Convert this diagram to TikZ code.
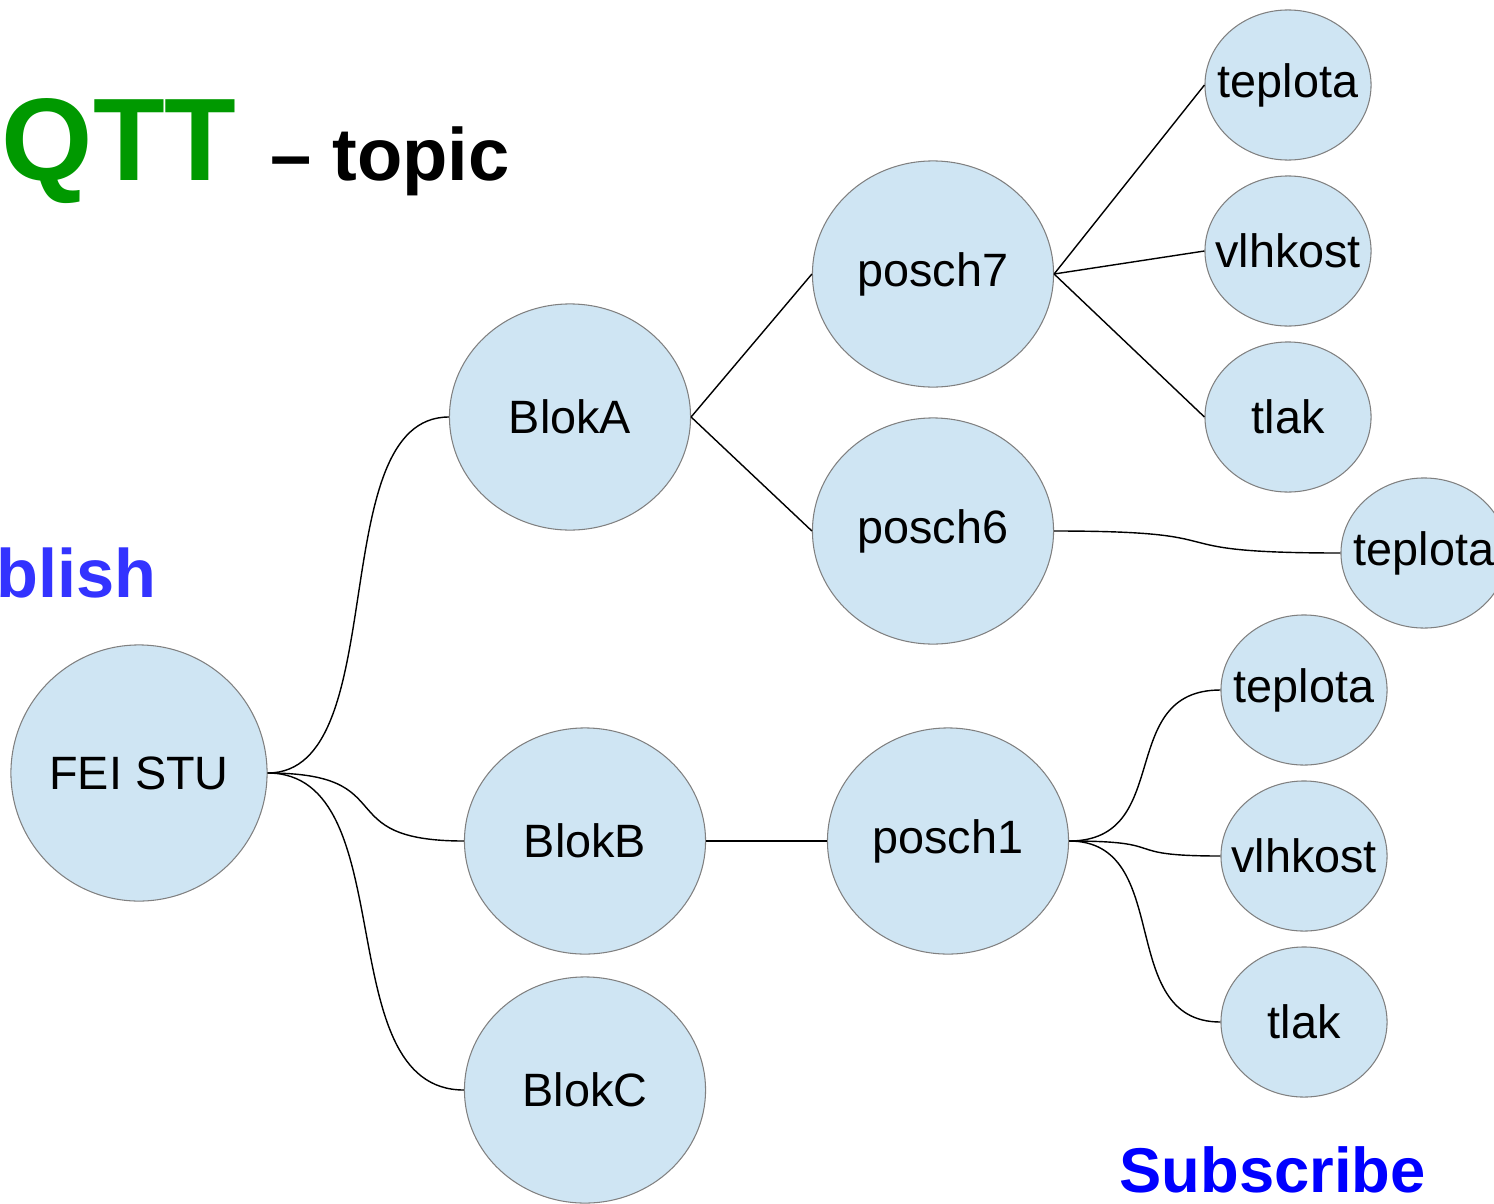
\documentclass[tikz,border=0pt]{standalone}
\usepackage{fontspec}
\setmainfont{Liberation Sans}
\usepackage{tikz}
\usetikzlibrary{shapes.geometric,calc}
\definecolor{bubblefill}{RGB}{207,229,243}
\definecolor{bubbleline}{RGB}{128,128,128}
\definecolor{qttgreen}{RGB}{0,153,0}
\definecolor{pubblue}{RGB}{51,51,255}
\definecolor{subblue}{RGB}{0,0,255}
\tikzset{
    bubble/.style={ellipse, draw=bubbleline, fill=bubblefill, line width=0.3pt, inner sep=0pt,
        minimum width=2.41cm, minimum height=2.26cm, font=\fontsize{13.3}{16}\selectfont,
        execute at begin node={\hbox to 0pt\bgroup\hss}, execute at end node={\hss\egroup}},
    rootbubble/.style={bubble, minimum width=2.56cm, minimum height=2.56cm},
    leafbubble/.style={bubble, minimum width=1.66cm, minimum height=1.5cm},
    link/.style={draw=black, line width=0.4pt},
    branch/.style={to path={let \p1=(\tikztostart), \p2=(\tikztotarget) in
        .. controls ({0.3*\x1+0.7*\x2},\y1) and ({0.7*\x1+0.3*\x2},\y2) .. (\tikztotarget)}},
    headline/.style={anchor=base west, inner sep=0pt, font=\bfseries}
}

\begin{document}
\begin{tikzpicture}[x=0.01cm, y=-0.01cm]
    \useasboundingbox (0,0) rectangle (1494,1203);

    \node[headline, text=qttgreen, font=\bfseries\fontsize{33.4}{40}\selectfont] (qtt) at (1,180) {QTT};
    \node[headline, font=\bfseries\fontsize{21.1}{25}\selectfont] (topic) at (270,180) {– topic};
    \node[headline, text=pubblue, font=\bfseries\fontsize{19.5}{23}\selectfont] (publish) at (-4,597) {blish};
    \node[headline, text=subblue, font=\bfseries\fontsize{18}{22}\selectfont] (subscribe) at (1119,1192) {Subscribe};

    \node[rootbubble] (fei) at (139,773) {FEI STU};
    \node[bubble] (blokA) at (570,417) {BlokA};
    \node[bubble] (blokB) at (585,841) {BlokB};
    \node[bubble] (blokC) at (585,1090) {BlokC};
    \node[bubble] (posch7) at (933,274) {posch7};
    \node[bubble] (posch6) at (933,531) {posch6};
    \node[bubble] (posch1) at (948,841) {posch1};
    \node[leafbubble] (teplotaA) at (1288,85) {teplota};
    \node[leafbubble] (vlhkostA) at (1288,251) {vlhkost};
    \node[leafbubble] (tlakA) at (1288,417) {tlak};
    \node[leafbubble] (teplotaB) at (1424,553) {teplota};
    \node[leafbubble] (teplotaC) at (1304,690) {teplota};
    \node[leafbubble] (vlhkostC) at (1304,856) {vlhkost};
    \node[leafbubble] (tlakC) at (1304,1022) {tlak};

    \draw[link] (fei.east) to[branch] (blokA.west);
    \draw[link] (fei.east) to[branch] (blokB.west);
    \draw[link] (fei.east) to[branch] (blokC.west);
    \draw[link] (blokA.east) -- (posch7.west);
    \draw[link] (blokA.east) -- (posch6.west);
    \draw[link] (blokB.east) -- (posch1.west);
    \draw[link] (posch7.east) -- (teplotaA.west);
    \draw[link] (posch7.east) -- (vlhkostA.west);
    \draw[link] (posch7.east) -- (tlakA.west);
    \draw[link] (posch6.east) to[branch] (teplotaB.west);
    \draw[link] (posch1.east) to[branch] (teplotaC.west);
    \draw[link] (posch1.east) to[branch] (vlhkostC.west);
    \draw[link] (posch1.east) to[branch] (tlakC.west);
\end{tikzpicture}
\end{document}
